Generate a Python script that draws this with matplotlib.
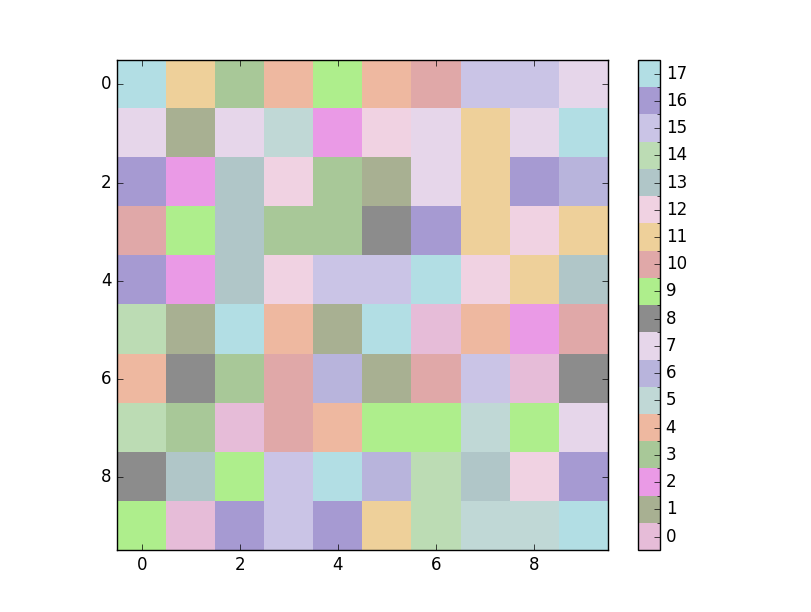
import numpy as np
import matplotlib
matplotlib.use("Agg")
import matplotlib.pyplot as plt
from matplotlib.colors import ListedColormap, BoundaryNorm

# colour of each category 0..17
colors = ["#e6bcd8", "#a8b092", "#ea9ae6", "#a8c898", "#eeb8a0", "#c0d8d6",
          "#b8b4dc", "#e6d6ea", "#8c8c8c", "#aeee8c", "#e0a8a8", "#eed09a",
          "#f0d2e2", "#b0c6c8", "#bcdcb4", "#cac4e6", "#a69ad2", "#b2dee4"]

# category of each cell, row by row
grid = [
    [17, 11, 3, 4, 9, 4, 10, 15, 15, 7],
    [7, 1, 7, 5, 2, 12, 7, 11, 7, 17],
    [16, 2, 13, 12, 3, 1, 7, 11, 16, 6],
    [10, 9, 13, 3, 3, 8, 16, 11, 12, 11],
    [16, 2, 13, 12, 15, 15, 17, 12, 11, 13],
    [14, 1, 17, 4, 1, 17, 0, 4, 2, 10],
    [4, 8, 3, 10, 6, 1, 10, 15, 0, 8],
    [14, 3, 0, 10, 4, 9, 9, 5, 9, 7],
    [8, 13, 9, 15, 17, 6, 14, 13, 12, 16],
    [9, 0, 16, 15, 16, 11, 14, 5, 5, 17],
]

plt.style.use("classic")
fig = plt.figure(figsize=(8.12, 6.12), dpi=100, facecolor="white")
ax = fig.add_axes([0.1416, 0.101, 0.6096, 0.801])
cax = fig.add_axes([0.786, 0.101, 0.027, 0.801])

n = len(colors)
cmap = ListedColormap(colors)
norm = BoundaryNorm(np.arange(-0.5, n + 0.5, 1), n)

im = ax.imshow(np.array(grid), cmap=cmap, norm=norm, interpolation="nearest")
ax.set_xticks([0, 2, 4, 6, 8])
ax.set_yticks([0, 2, 4, 6, 8])

cb = fig.colorbar(im, cax=cax, ticks=range(n))
cb.outline.set_linewidth(1)

plt.savefig("out.png", dpi=100, facecolor="white")
